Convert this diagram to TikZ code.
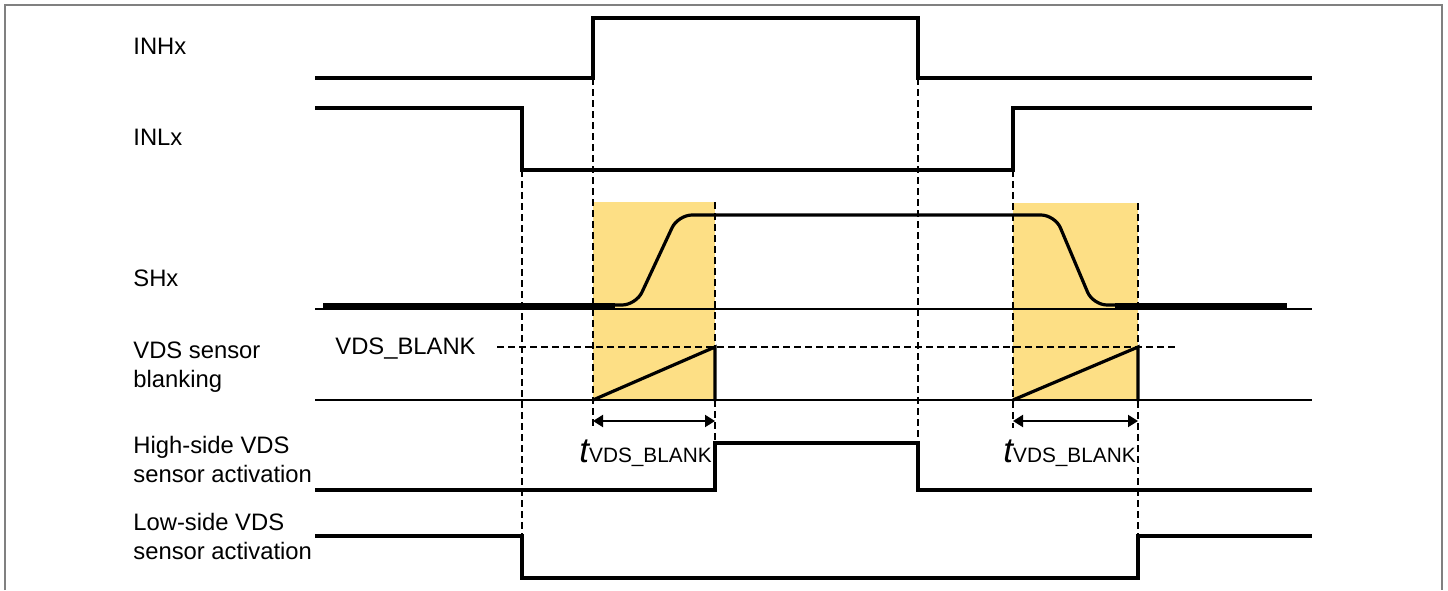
\documentclass[tikz,border=0pt]{standalone}
\usepackage{fontspec}
\setmainfont{Liberation Sans}
\usetikzlibrary{arrows.meta}
\definecolor{blankfill}{HTML}{FDDF85}
\definecolor{framegray}{HTML}{808080}
\begin{document}
\begin{tikzpicture}[x=0.5pt,y=-0.5pt,
  lab/.style={anchor=base west,inner sep=0pt,font=\fontsize{11.9}{14}\selectfont},
  wave/.style={line width=1.6pt,line join=miter},
  thinline/.style={line width=1pt},
  guide/.style={line width=0.8pt,dash pattern=on 3.5pt off 2pt},
  dimarrow/.style={line width=1pt,{Triangle[length=5pt,width=6pt]}-{Triangle[length=5pt,width=6pt]}},
  tlab/.style={anchor=base west,inner sep=0pt}]
\useasboundingbox (0,0) rectangle (1448,590);
% frame
\draw[framegray,line width=1pt] (4.5,590) -- (4.5,4.5) -- (1442,4.5) -- (1442,590);
% blanking windows
\fill[blankfill] (593,202) rectangle (715,400);
\fill[blankfill] (1013,203) rectangle (1138,400);
% labels
\node[lab] (linh) at (133,54) {INHx};
\node[lab] (linl) at (133,145) {INLx};
\node[lab] (lsh) at (133,286) {SHx};
\node[lab] (lvds1) at (133,358) {VDS sensor};
\node[lab] (lvds2) at (133,387) {blanking};
\node[lab] (lhs1) at (133,453) {High-side VDS};
\node[lab] (lhs2) at (133,482) {sensor activation};
\node[lab] (lls1) at (133,530) {Low-side VDS};
\node[lab] (lls2) at (133,559) {sensor activation};
\node[lab] (lvb) at (335,354) {VDS\_BLANK};
% INHx
\draw[wave] (315,78) -- (593,78) -- (593,18) -- (918,18) -- (918,78) -- (1312,78);
% INLx
\draw[wave] (315,108) -- (522,108) -- (522,170) -- (1013,170) -- (1013,108) -- (1312,108);
% SHx
\draw[thinline] (315,309) -- (1312,309);
\draw[line width=2.3pt] (323,305.5) -- (615,305.5);
\draw[line width=2.3pt] (1115,305.5) -- (1287,305.5);
\draw[wave,rounded corners=7pt] (600,305) -- (636,305) -- (678,215) -- (1055,215) -- (1093,305) -- (1130,305);
% VDS blanking
\draw[thinline] (315,400) -- (1312,400);
\draw[wave] (593,400) -- (715,347) -- (715,401);
\draw[wave] (1013,400) -- (1138,347) -- (1138,401);
\draw[guide] (497,347) -- (1175,347);
% High-side activation
\draw[wave] (315,490) -- (715,490) -- (715,443) -- (918,443) -- (918,490) -- (1312,490);
% Low-side activation
\draw[wave] (315,536) -- (522,536) -- (522,578) -- (1138,578) -- (1138,536) -- (1312,536);
% guides
\draw[guide] (522,170) -- (522,578);
\draw[guide] (593,78) -- (593,428);
\draw[guide] (715,202) -- (715,443);
\draw[guide] (918,78) -- (918,490);
\draw[guide] (1013,170) -- (1013,428);
\draw[guide] (1138,203) -- (1138,536);
% dimension arrows
\coordinate (a1l) at (593,421);
\coordinate (a1r) at (715,421);
\coordinate (a2l) at (1013,421);
\coordinate (a2r) at (1138,421);
\draw[dimarrow] (a1l) -- (a1r);
\draw[dimarrow] (a2l) -- (a2r);
\node[tlab] (t1) at (579,462) {{\fontsize{17.5}{17.5}\selectfont\itshape t}{\fontsize{10.4}{10.4}\selectfont VDS\_BLANK}};
\node[tlab] (t2) at (1003,462) {{\fontsize{17.5}{17.5}\selectfont\itshape t}{\fontsize{10.4}{10.4}\selectfont VDS\_BLANK}};
\end{tikzpicture}
\end{document}
